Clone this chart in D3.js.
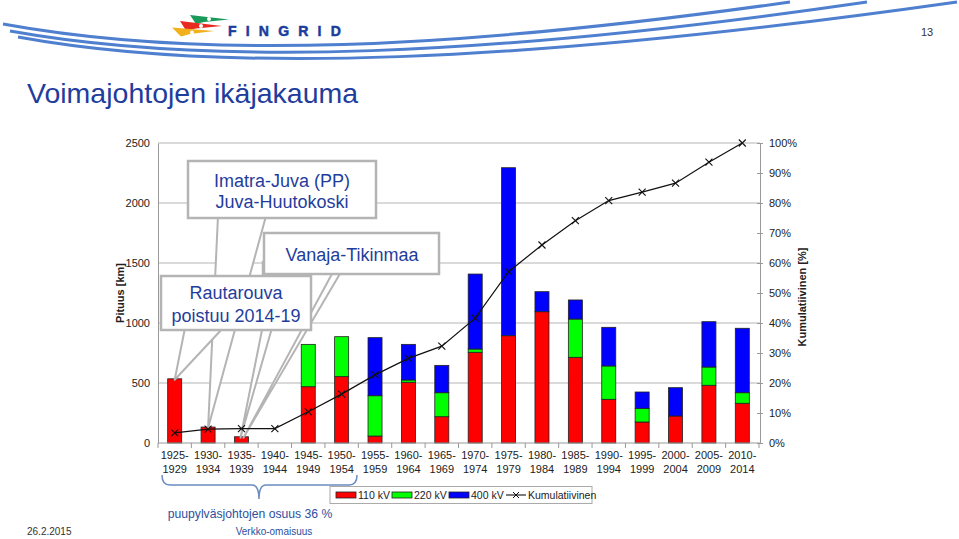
<!DOCTYPE html>
<html><head><meta charset="utf-8">
<script src="https://cdn.jsdelivr.net/npm/d3@7"></script>
<style>
html,body{margin:0;padding:0;background:#fff;}
svg{display:block;font-family:"Liberation Sans",Arial,sans-serif;}
</style></head>
<body>
<svg id="c" width="959" height="539"></svg>
<script>
const categories = ["1925-1929","1930-1934","1935-1939","1940-1944","1945-1949","1950-1954","1955-1959","1960-1964","1965-1969","1970-1974","1975-1979","1980-1984","1985-1989","1990-1994","1995-1999","2000-2004","2005-2009","2010-2014"];
const kv110 = [535,133,52,0,469,553,58,506,219,756,894,1094,714,364,175,225,481,331];
const kv220 = [0,0,0,0,353,333,336,19,200,27,0,0,319,278,114,0,152,88];
const kv400 = [0,0,0,0,0,0,484,297,228,625,1400,167,159,322,136,236,378,537];
const cumulative = [3.4,4.6,4.8,4.8,10.4,16.3,22.7,28.2,32.3,41.6,57.1,66.0,74.1,80.8,83.6,86.6,93.6,100];
const leftTicks = [0,500,1000,1500,2000,2500];
const rightTicks = [0,10,20,30,40,50,60,70,80,90,100];
const seriesNames = ["110 kV","220 kV","400 kV"];
const seriesColors = ["#ff0000","#00ff00","#0000ff"];

const svg = d3.select("#c");
const blue = "#1f3d9c";

// header swooshes
const sw = svg.append("g").attr("fill","none").attr("stroke","#4f7fcf").attr("stroke-width",3);
sw.append("path").attr("d","M3,24 C200,60 450,50 790,2");
sw.append("path").attr("d","M10,31 C210,67 490,57 867,2");
sw.append("path").attr("d","M18,37 C220,74 520,64 957,2");

// logo flags
const lg = svg.append("g");
lg.append("path").attr("d","M190,15 L229,19.5 L204,22 L196,24 Z").attr("fill","#1a9a5a");
lg.append("path").attr("d","M180,21 L222,26 L196,28.5 L186,30.5 Z").attr("fill","#e82a20");
lg.append("path").attr("d","M172,27.5 L214,31 L190,34 L181,36.5 Z").attr("fill","#f2b01c");
[[209,19],[201,26],[192,32.5]].forEach(p=>lg.append("circle").attr("cx",p[0]).attr("cy",p[1]).attr("r",2).attr("fill","#fff"));
svg.append("text").attr("x",228).attr("y",35.5).attr("font-size",14).attr("font-weight","bold")
  .attr("letter-spacing",9.2).attr("fill","#1a3c9c").attr("stroke","#1a3c9c").attr("stroke-width",0.5).text("FINGRID");

svg.append("text").attr("x",921).attr("y",36).attr("font-size",11).attr("fill","#333").text("13");

svg.append("text").attr("x",27).attr("y",103).attr("font-size",28.5).attr("fill",blue).text("Voimajohtojen ikäjakauma");

// scales
const x = d3.scaleBand().domain(categories).range([158,759]).paddingInner(0.58).paddingOuter(0.29);
const y = d3.scaleLinear().domain([0,2500]).range([443,143]);
const y2 = d3.scaleLinear().domain([0,100]).range([443,143]);

// gridlines
svg.append("g").selectAll("line").data(leftTicks.slice(1)).join("line")
  .attr("x1",158).attr("x2",760).attr("y1",d=>y(d)).attr("y2",d=>y(d))
  .attr("stroke","#b5b5b5").attr("stroke-width",1);

// left axis
const la = svg.append("g").attr("transform","translate(158,0)")
  .call(d3.axisLeft(y).tickValues(leftTicks).tickSize(0).tickPadding(8).tickFormat(d3.format("d")));
la.select(".domain").attr("stroke","#999");
la.selectAll("text").attr("font-size",11).attr("fill","#222").attr("font-family","Liberation Sans, Arial, sans-serif");

// right axis
const ra = svg.append("g").attr("transform","translate(760,0)")
  .call(d3.axisRight(y2).tickValues(rightTicks).tickSize(3).tickPadding(6).tickFormat(d=>d+"%"));
ra.select(".domain").attr("stroke","#999");
ra.selectAll(".tick line").attr("stroke","#999").attr("x1",-3);
ra.selectAll("text").attr("font-size",11).attr("fill","#222").attr("font-family","Liberation Sans, Arial, sans-serif");

// axis titles
svg.append("text").attr("transform","translate(124,293) rotate(-90)").attr("text-anchor","middle")
  .attr("font-size",11).attr("font-weight","bold").attr("fill","#222").text("Pituus [km]");
svg.append("text").attr("transform","translate(806,297) rotate(-90)").attr("text-anchor","middle")
  .attr("font-size",11).attr("font-weight","bold").attr("fill","#222").text("Kumulatiivinen [%]");

// stacked bars
const table = categories.map((c,i)=>({cat:c, s0:kv110[i], s1:kv220[i], s2:kv400[i]}));
const stack = d3.stack().keys(["s0","s1","s2"])(table);
svg.append("g").selectAll("g").data(stack).join("g").attr("fill",(d,i)=>seriesColors[i])
  .selectAll("rect").data(d=>d.filter(p=>p[1]-p[0]>0)).join("rect")
  .attr("x",d=>x(d.data.cat)).attr("width",x.bandwidth())
  .attr("y",d=>y(d[1])).attr("height",d=>y(d[0])-y(d[1]))
  .attr("stroke","#222").attr("stroke-width",0.8);

// x axis
const xa = svg.append("g").attr("transform","translate(0,443)");
xa.append("line").attr("x1",158).attr("x2",760).attr("stroke","#999");
const step = x.step();
xa.selectAll("line.t").data(d3.range(categories.length+1)).join("line").attr("class","t")
  .attr("x1",i=>158+i*step).attr("x2",i=>158+i*step).attr("y1",0).attr("y2",5).attr("stroke","#999");
const xl = xa.selectAll("text").data(categories).join("text")
  .attr("text-anchor","middle").attr("font-size",11).attr("fill","#222")
  .attr("transform",d=>`translate(${x(d)+x.bandwidth()/2},0)`);
xl.append("tspan").attr("x",0).attr("y",16).text(d=>d.split("-")[0]+"-");
xl.append("tspan").attr("x",0).attr("y",30).text(d=>d.split("-")[1]);

// callouts
const cg = svg.append("g");
const calStroke = "#b4b4b4";
function wedge(pts){ cg.append("path").attr("d","M"+pts.map(p=>p.join(",")).join("L")+"Z").attr("fill","#fff").attr("stroke",calStroke).attr("stroke-width",2).attr("stroke-linejoin","round"); }
function box(x0,y0,w,h){ cg.append("rect").attr("x",x0).attr("y",y0).attr("width",w).attr("height",h).attr("fill","#fff").attr("stroke",calStroke).attr("stroke-width",2.5); }
function txt(cx,by,s){ cg.append("text").attr("x",cx).attr("y",by).attr("text-anchor","middle").attr("font-size",18).attr("fill",blue).text(s); }
const bx = i=>x(categories[i])+x.bandwidth()/2;
wedge([[218,216],[266,216],[bx(1),y(kv110[1])+1]]);
wedge([[268,300],[280,300],[bx(2)-1,y(kv110[2])+1]]);
wedge([[333,272],[341,272],[bx(2)+2,y(kv110[2])+1]]);
box(263,262,32,50);
box(188,161,188,57);
txt(282,187,"Imatra-Juva (PP)");
txt(282,208,"Juva-Huutokoski");
box(264,233,175,41);
txt(352,261,"Vanaja-Tikinmaa");
wedge([[185,328],[223,328],[bx(0),y(kv110[0])+1]]);
box(161,276,150,54);
txt(236,299,"Rautarouva");
txt(236,322,"poistuu 2014-19");

// cumulative line
const line = d3.line().x((d,i)=>bx(i)).y(d=>y2(d));
svg.append("path").datum(cumulative).attr("d",line).attr("fill","none").attr("stroke","#111").attr("stroke-width",1.2);
svg.append("g").selectAll("path").data(cumulative).join("path")
  .attr("d",(d,i)=>{const cx=bx(i),cy=y2(d),s=3.5;return `M${cx-s},${cy-s}L${cx+s},${cy+s}M${cx-s},${cy+s}L${cx+s},${cy-s}`;})
  .attr("stroke","#111").attr("stroke-width",1.1);

// legend
const lgd = svg.append("g");
lgd.append("rect").attr("x",330).attr("y",486.5).attr("width",262).attr("height",17).attr("fill","#fff").attr("stroke","#aaa");
const lx = [336,392,449];
seriesNames.forEach((n,i)=>{
  lgd.append("rect").attr("x",lx[i]).attr("y",492).attr("width",20).attr("height",6).attr("fill",seriesColors[i]).attr("stroke","#222").attr("stroke-width",0.8);
  lgd.append("text").attr("x",lx[i]+22).attr("y",499).attr("font-size",10.5).attr("fill","#222").text(n);
});
lgd.append("line").attr("x1",506).attr("x2",526).attr("y1",495).attr("y2",495).attr("stroke","#111").attr("stroke-width",1.1);
lgd.append("path").attr("d","M513,492L519,498M513,498L519,492").attr("stroke","#111");
lgd.append("text").attr("x",528).attr("y",499).attr("font-size",10.5).attr("fill","#222").text("Kumulatiivinen");

// brace
svg.append("path").attr("d","M162,475 Q162,485 170,485 L252,485 Q259,485 259,499 Q259,485 266,485 L349,485 Q357,485 357,475")
  .attr("fill","none").attr("stroke","#6a8cc0").attr("stroke-width",1.5);
svg.append("text").attr("x",250).attr("y",518).attr("text-anchor","middle").attr("font-size",12.2).attr("fill","#2d4fa0").text("puupylväsjohtojen osuus 36 %");
svg.append("text").attr("x",274).attr("y",535).attr("text-anchor","middle").attr("font-size",10).attr("fill","#2d4fa0").text("Verkko-omaisuus");
svg.append("text").attr("x",27).attr("y",535).attr("font-size",10).attr("fill","#333").text("26.2.2015");
</script>
</body></html>
